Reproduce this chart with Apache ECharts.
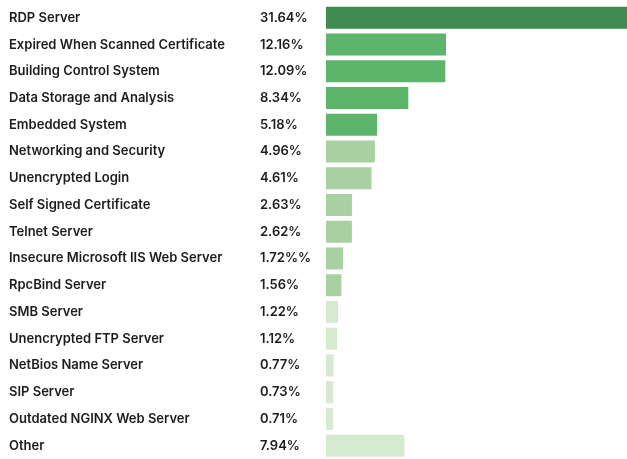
<!DOCTYPE html>
<html>
<head>
<meta charset="utf-8">
<script src="https://cdn.jsdelivr.net/npm/echarts@6/dist/echarts.min.js"></script>
<style>html,body{margin:0;padding:0;background:#fff}#c{width:627px;height:459px}</style>
</head>
<body>
<div id="c"></div>
<script>
const categories = ['RDP Server','Expired When Scanned Certificate','Building Control System','Data Storage and Analysis','Embedded System','Networking and Security','Unencrypted Login','Self Signed Certificate','Telnet Server','Insecure Microsoft IIS Web Server','RpcBind Server','SMB Server','Unencrypted FTP Server','NetBios Name Server','SIP Server','Outdated NGINX Web Server','Other'];
const values = [31.64,12.16,12.09,8.34,5.18,4.96,4.61,2.63,2.62,1.72,1.56,1.22,1.12,0.77,0.73,0.71,7.94];
const valueLabels = ['31.64%','12.16%','12.09%','8.34%','5.18%','4.96%','4.61%','2.63%','2.62%','1.72%%','1.56%','1.22%','1.12%','0.77%','0.73%','0.71%','7.94%'];
const tiers = [0,1,1,1,1,2,2,2,2,2,2,3,3,3,3,3,3];
const tierColors = ['#3e8c4f','#5db56b','#a9d0a1','#d5eacf'];

const chart = echarts.init(document.getElementById('c'));
const font = 'Inter, "Open Sans", sans-serif';
chart.setOption({
  animation:false,
  grid:{left:326, top:4.5, width:301, height:460, containLabel:false},
  xAxis:{type:'value', min:0, max:30.5, show:false},
  yAxis:[
    {type:'category', data:categories, inverse:true, position:'left',
     axisLine:{show:false}, axisTick:{show:false},
     axisLabel:{align:'left', margin:317, color:'#1c1c1c', fontFamily:font, fontWeight:600, fontSize:13, padding:[4,0,0,0]}},
    {type:'category', data:valueLabels, inverse:true, position:'left',
     axisLine:{show:false}, axisTick:{show:false},
     axisLabel:{align:'left', margin:66, color:'#1c1c1c', fontFamily:font, fontWeight:600, fontSize:13, padding:[4,0,0,0]}}
  ],
  series:[{
    type:'bar', yAxisIndex:0, barWidth:22,
    data: values.map((v,i)=>({value:v, itemStyle:{color:tierColors[tiers[i]]}}))
  }]
});
</script>
</body>
</html>
